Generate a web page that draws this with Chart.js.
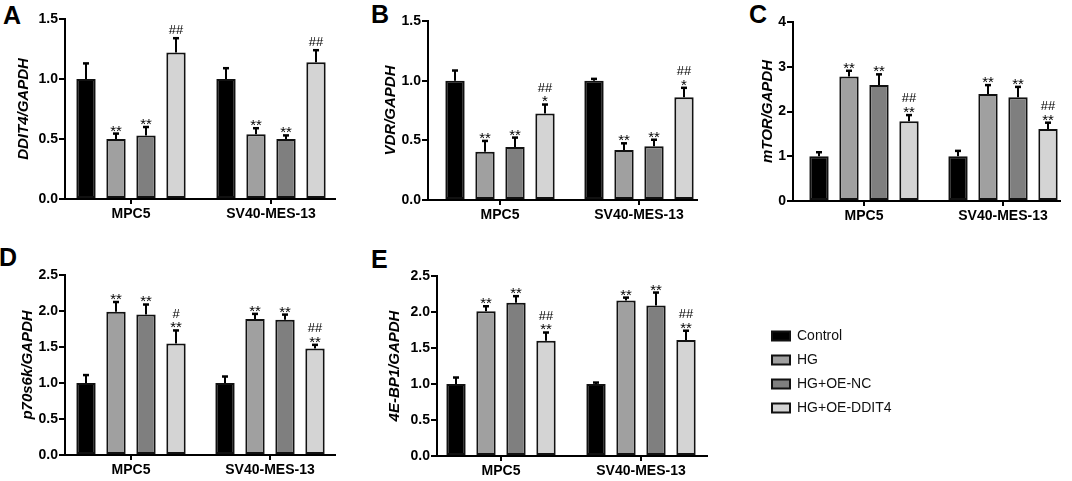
<!DOCTYPE html>
<html><head><meta charset="utf-8">
<script src="https://cdn.jsdelivr.net/npm/chart.js@4.4.0/dist/chart.umd.min.js"></script>
<style>
html,body{margin:0;padding:0;background:#fff;overflow:hidden;width:1072px;height:481px;position:relative;}
canvas{position:absolute;}
.lbl{position:absolute;font-family:'Liberation Sans',Arial,sans-serif;font-weight:bold;font-size:25px;line-height:25px;color:#000;}
</style></head><body>
<div class="lbl" style="left:3px;top:3px">A</div>
<div class="lbl" style="left:371px;top:2px">B</div>
<div class="lbl" style="left:749px;top:2px">C</div>
<div class="lbl" style="left:-1px;top:245px">D</div>
<div class="lbl" style="left:371px;top:247px">E</div>
<canvas id="cA"></canvas>
<canvas id="cB"></canvas>
<canvas id="cC"></canvas>
<canvas id="cD"></canvas>
<canvas id="cE"></canvas>
<canvas id="cLegend"></canvas>
<script>
// ---------- data ----------
const categories = ['MPC5', 'SV40-MES-13'];
const seriesNames = ['Control', 'HG', 'HG+OE-NC', 'HG+OE-DDIT4'];
const seriesColors = ['#000000', '#a0a0a0', '#7f7f7f', '#d4d4d4'];

// rows = series (Control, HG, HG+OE-NC, HG+OE-DDIT4), columns = categories
const ddit4Means = [[1.00, 1.00], [0.50, 0.54], [0.53, 0.50], [1.22, 1.14]];
const ddit4SD    = [[0.13, 0.09], [0.045, 0.05], [0.07, 0.03], [0.12, 0.10]];
const ddit4Sig   = [['', ''], ['**', '**'], ['**', '**'], ['##', '##']];
const ddit4Ticks = [0.0, 0.5, 1.0, 1.5];

const vdrMeans = [[1.00, 1.00], [0.405, 0.42], [0.445, 0.45], [0.725, 0.86]];
const vdrSD    = [[0.085, 0.015], [0.09, 0.055], [0.078, 0.055], [0.075, 0.08]];
const vdrSig   = [['', ''], ['**', '**'], ['**', '**'], ['##\n*', '##\n*']];
const vdrTicks = [0.0, 0.5, 1.0, 1.5];

const mtorMeans = [[1.00, 1.00], [2.78, 2.39], [2.59, 2.32], [1.78, 1.61]];
const mtorSD    = [[0.09, 0.12], [0.13, 0.20], [0.24, 0.23], [0.14, 0.14]];
const mtorSig   = [['', ''], ['**', '**'], ['**', '**'], ['##\n**', '##\n**']];
const mtorTicks = [0, 1, 2, 3, 4];

const p70Means = [[1.00, 1.00], [1.99, 1.89], [1.95, 1.88], [1.55, 1.48]];
const p70SD    = [[0.11, 0.09], [0.135, 0.07], [0.14, 0.07], [0.18, 0.05]];
const p70Sig   = [['', ''], ['**', '**'], ['**', '**'], ['#\n**', '##\n**']];
const p70Ticks = [0.0, 0.5, 1.0, 1.5, 2.0, 2.5];

const bp1Means = [[1.00, 1.00], [2.01, 2.16], [2.13, 2.09], [1.60, 1.61]];
const bp1SD    = [[0.09, 0.02], [0.07, 0.04], [0.09, 0.18], [0.115, 0.13]];
const bp1Sig   = [['', ''], ['**', '**'], ['**', '**'], ['##\n**', '##\n**']];
const bp1Ticks = [0.0, 0.5, 1.0, 1.5, 2.0, 2.5];

// ---------- layout (page pixels) ----------
const layoutA = {left: 65, right: 335, top: 19, bottom: 199, c1: 131, c2: 271, titleX: 24};
const layoutB = {left: 428, right: 697, top: 21, bottom: 200, c1: 500, c2: 639, titleX: 391};
const layoutC = {left: 793, right: 1060, top: 22, bottom: 201, c1: 864, c2: 1003, titleX: 768};
const layoutD = {left: 65, right: 335, top: 275, bottom: 455, c1: 131, c2: 270, titleX: 28};
const layoutE = {left: 437, right: 707, top: 276, bottom: 456, c1: 501, c2: 641, titleX: 395};

const FONT = "'Liberation Sans', Arial, sans-serif";
Chart.defaults.font.family = FONT;
Chart.defaults.color = '#000';

const errorBarPlugin = {
  id: 'errorBars',
  afterDatasetsDraw(chart) {
    const ctx = chart.ctx;
    const yScale = chart.scales.y;
    chart.data.datasets.forEach((ds, di) => {
      const meta = chart.getDatasetMeta(di);
      meta.data.forEach((bar, i) => {
        const v = ds.data[i].y;
        const sd = ds.sd[i];
        const yTop = bar.y;
        const yCap = yScale.getPixelForValue(v + sd);
        ctx.save();
        ctx.strokeStyle = '#000';
        ctx.lineWidth = 2;
        ctx.beginPath();
        ctx.moveTo(bar.x, yTop);
        ctx.lineTo(bar.x, yCap);
        ctx.stroke();
        ctx.lineWidth = 2.5;
        ctx.beginPath();
        ctx.moveTo(bar.x - 3, yCap);
        ctx.lineTo(bar.x + 3, yCap);
        ctx.stroke();
        const sig = ds.sig[i];
        if (sig) {
          const lines = sig.split('\n').reverse();
          let yb = yCap - 4.5;
          ctx.fillStyle = '#000';
          ctx.textAlign = 'center';
          ctx.textBaseline = 'alphabetic';
          lines.forEach(t => {
            if (t.indexOf('*') >= 0) {
              const fs = 15;
              ctx.font = fs + 'px ' + FONT;
              const base = yb + 0.43 * fs;
              ctx.fillText(t, bar.x, base);
              yb = base - 0.72 * fs - 4;
            } else {
              const fs = 13;
              ctx.font = fs + 'px ' + FONT;
              ctx.fillText(t, bar.x, yb);
              yb = yb - 0.72 * fs - 4;
            }
          });
        }
        ctx.restore();
      });
    });
  }
};

function makePanel(id, L, means, sds, sigs, yTicks, decimals, yTitle) {
  const wy = 60, pt = 14, pr = 8, hx = 30;
  const cLeft = L.left - wy, cTop = L.top - pt;
  const cw = L.right + pr - cLeft, ch = L.bottom + hx - cTop;
  const cv = document.getElementById(id);
  cv.style.left = cLeft + 'px';
  cv.style.top = cTop + 'px';
  cv.style.width = cw + 'px';
  cv.style.height = ch + 'px';
  cv.width = cw; cv.height = ch;
  const unit = L.c2 - L.c1;
  const xmin = -(L.c1 - L.left) / unit;
  const xmax = 1 + (L.right - L.c2) / unit;
  const titleSize = 15;
  const titleLH = titleSize * 1.2;
  const titlePad = L.titleX - cLeft - titleLH / 2;
  return new Chart(cv, {
    type: 'bar',
    data: {
      datasets: seriesNames.map((name, s) => ({
        label: name,
        data: categories.map((c, i) => ({x: i, y: means[s][i]})),
        sd: sds[s],
        sig: sigs[s],
        backgroundColor: seriesColors[s],
        borderColor: '#111',
        borderWidth: 2,
        borderSkipped: false,
        categoryPercentage: 120 / unit,
        barPercentage: 0.645
      }))
    },
    options: {
      responsive: false,
      animation: false,
      layout: {padding: {top: pt, right: pr, left: 0, bottom: 0}},
      plugins: {legend: {display: false}, tooltip: {enabled: false}},
      scales: {
        x: {
          type: 'linear', min: xmin, max: xmax, offset: false,
          afterBuildTicks: s => { s.ticks = categories.map((c, i) => ({value: i})); },
          afterFit: s => { s.height = hx; },
          grid: {display: true, drawOnChartArea: false, drawTicks: true, tickLength: 5, lineWidth: 2, color: '#000', offset: false},
          border: {display: true, color: '#000', width: 2},
          ticks: {callback: v => (categories[v] !== undefined ? categories[v] : ''), font: {size: 14, weight: 'bold'}, color: '#000', padding: 2, maxRotation: 0, autoSkip: false}
        },
        y: {
          min: yTicks[0], max: yTicks[yTicks.length - 1],
          afterBuildTicks: s => { s.ticks = yTicks.map(v => ({value: v})); },
          afterFit: s => { s.width = wy; },
          grid: {display: true, drawOnChartArea: false, drawTicks: true, tickLength: 6, lineWidth: 2, color: '#000'},
          border: {display: true, color: '#000', width: 2},
          ticks: {callback: v => Number(v).toFixed(decimals), font: {size: 14, weight: 'bold'}, color: '#000', padding: 1},
          title: {display: true, text: yTitle, font: {size: titleSize, weight: 'bold', style: 'italic'}, color: '#000', padding: {top: titlePad, bottom: 0}}
        }
      }
    },
    plugins: [errorBarPlugin]
  });
}

makePanel('cA', layoutA, ddit4Means, ddit4SD, ddit4Sig, ddit4Ticks, 1, 'DDIT4/GAPDH');
makePanel('cB', layoutB, vdrMeans, vdrSD, vdrSig, vdrTicks, 1, 'VDR/GAPDH');
makePanel('cC', layoutC, mtorMeans, mtorSD, mtorSig, mtorTicks, 0, 'mTOR/GAPDH');
makePanel('cD', layoutD, p70Means, p70SD, p70Sig, p70Ticks, 1, 'p70s6k/GAPDH');
makePanel('cE', layoutE, bp1Means, bp1SD, bp1Sig, bp1Ticks, 1, '4E-BP1/GAPDH');

// ---------- shared legend ----------
(function () {
  const cv = document.getElementById('cLegend');
  const cw = 300, ch = 110;
  cv.style.left = '762px'; cv.style.top = '319px';
  cv.style.width = cw + 'px'; cv.style.height = ch + 'px';
  cv.width = cw; cv.height = ch;
  new Chart(cv, {
    type: 'bar',
    data: {
      datasets: seriesNames.map((name, s) => ({
        label: name, data: [], backgroundColor: seriesColors[s], borderColor: '#111', borderWidth: 2
      }))
    },
    options: {
      responsive: false, animation: false,
      layout: {padding: 0},
      scales: {x: {display: false}, y: {display: false}},
      plugins: {
        tooltip: {enabled: false},
        legend: {
          position: 'left', align: 'start',
          labels: {boxWidth: 18, boxHeight: 9, padding: 10, color: '#111', font: {size: 14}}
        }
      }
    }
  });
})();
</script>
</body></html>
